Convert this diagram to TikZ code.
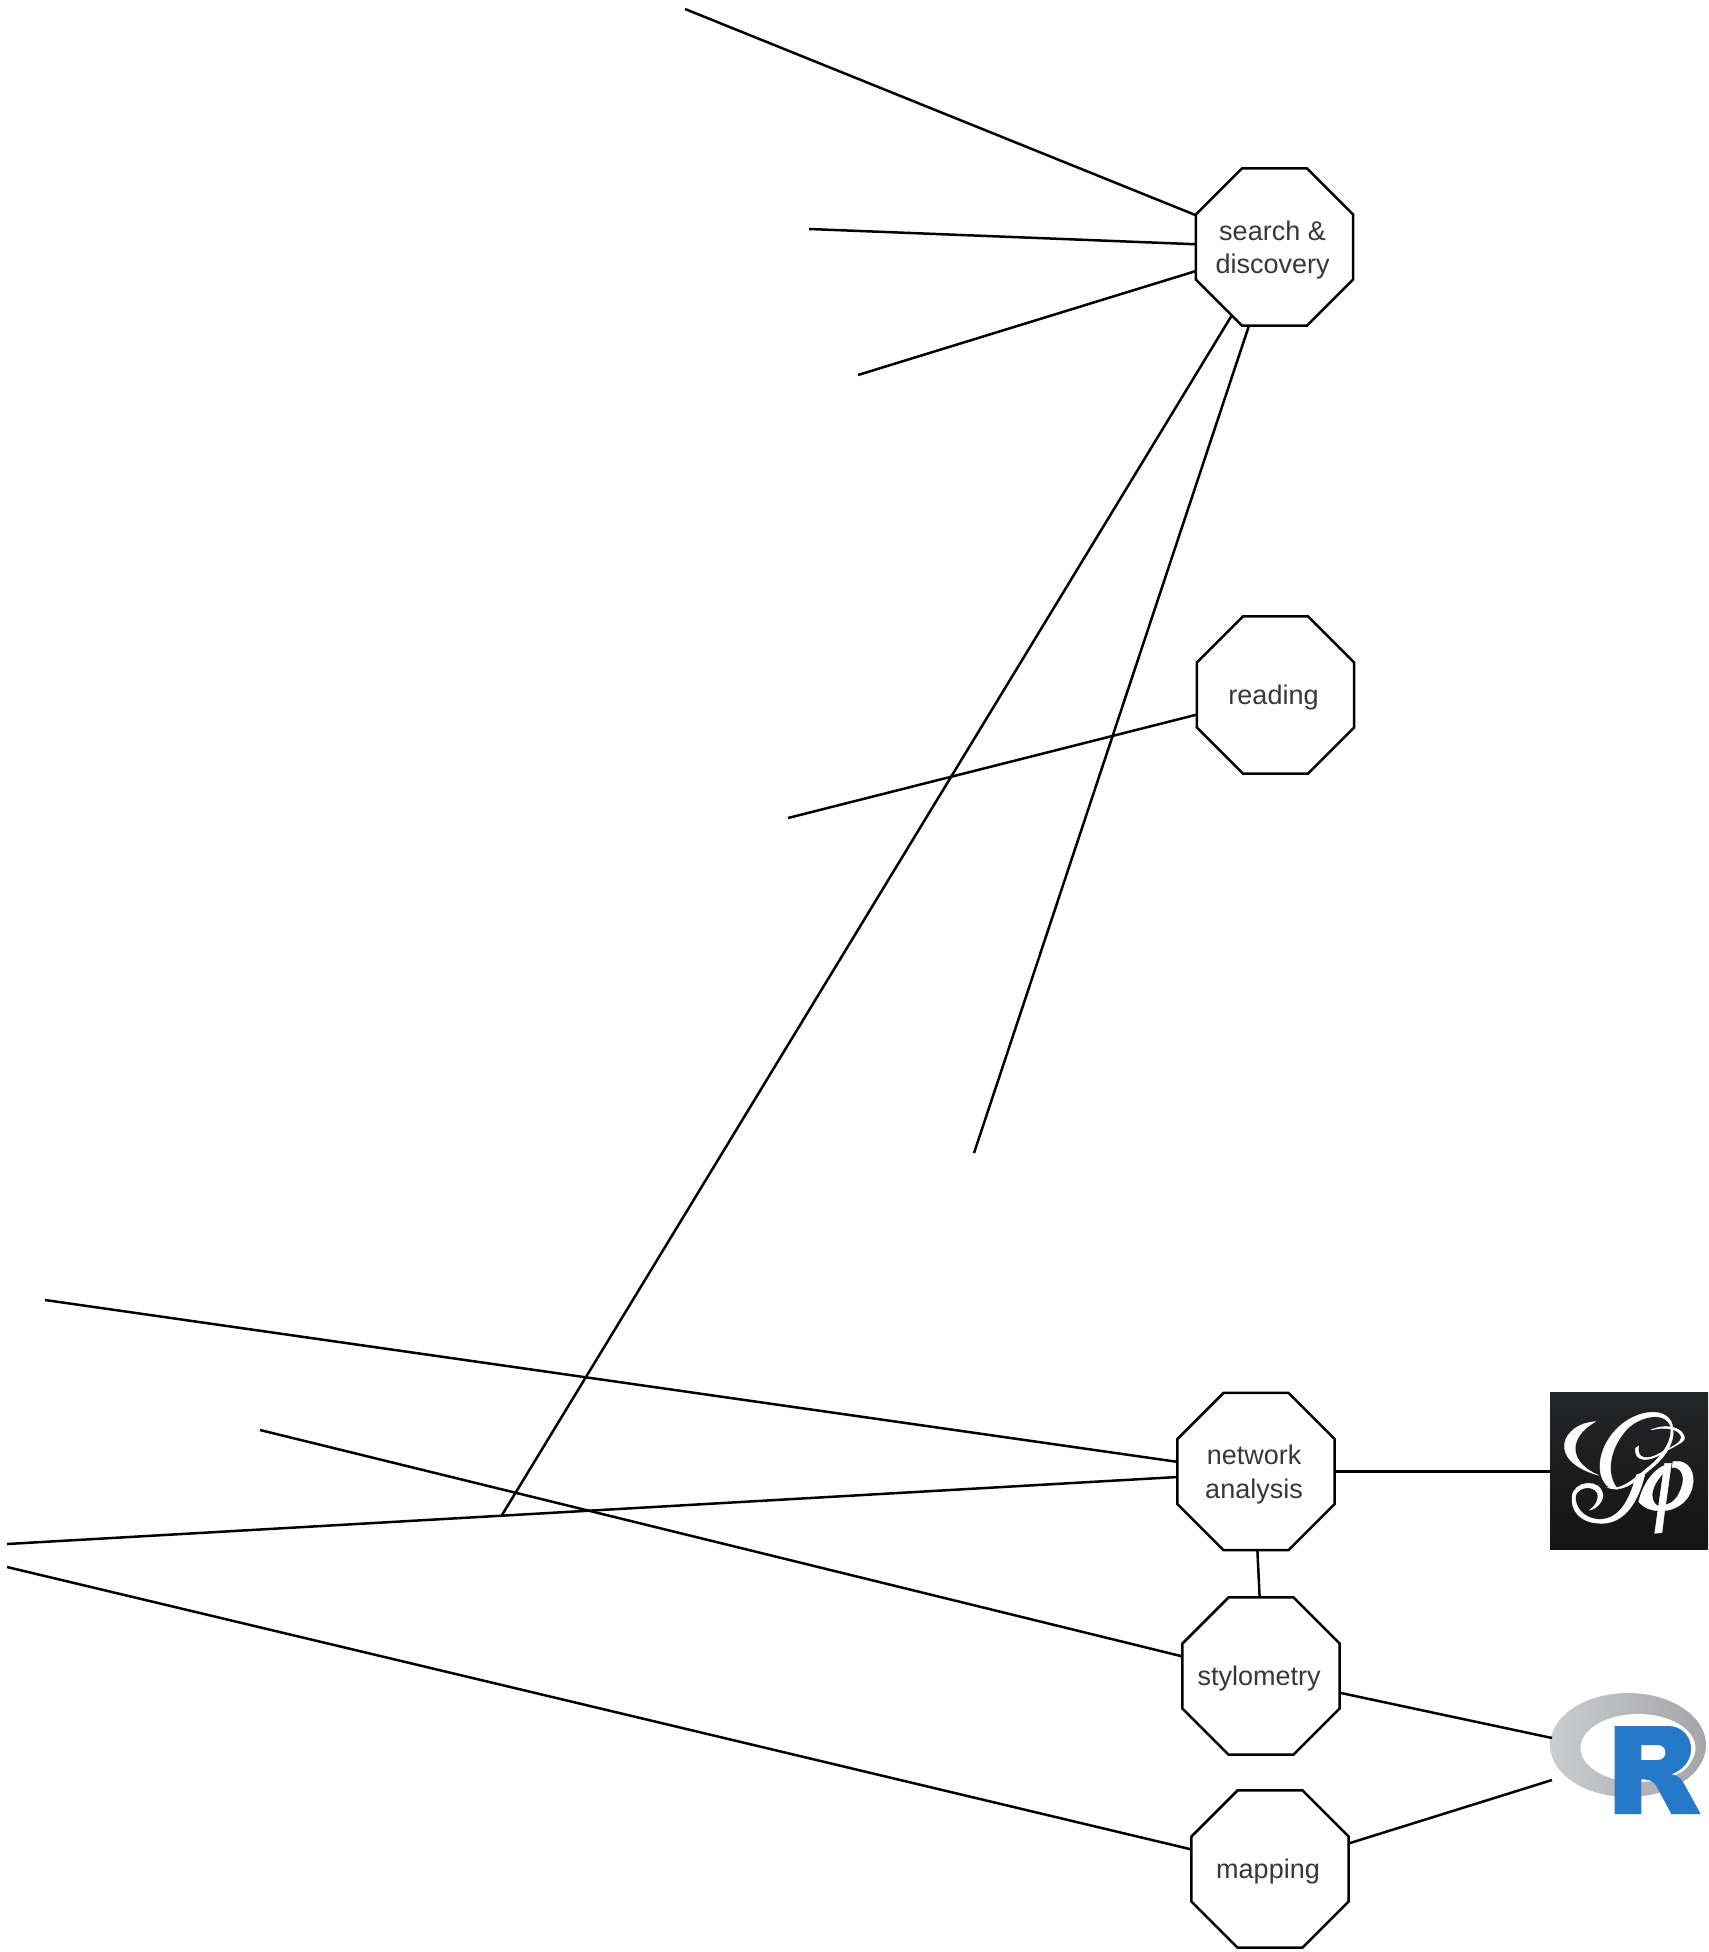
\documentclass[tikz,border=0pt]{standalone}
\usepackage{fontspec}
\setmainfont{Liberation Sans}
\usepackage{xcolor}
\usetikzlibrary{positioning, shapes.geometric}
\definecolor{mytext}{RGB}{55,55,55}
\definecolor{rblue}{RGB}{38,120,200}
\definecolor{ringl}{RGB}{203,204,207}
\definecolor{ringd}{RGB}{165,165,169}
\definecolor{gptop}{RGB}{36,37,39}
\definecolor{gpbot}{RGB}{20,20,20}
\newcommand{\tasktext}[1]{\makebox[0pt]{\hspace*{-2pt}\raisebox{-5.2pt}[0pt][0pt]{\begin{tabular}{@{}c@{}}#1\end{tabular}}}}

\begin{document}
\begin{tikzpicture}[
      x=0.5pt, y=-0.5pt,
      task/.style={draw, regular polygon, regular polygon sides=8, minimum size=85pt,
                  inner sep=0pt, outer sep=0pt, line width=1.25pt,
                  text=mytext, font=\fontsize{13.5}{16.8}\selectfont},
      link/.style={line width=1.25pt, color=black},
      glyph/.style={fill=white, draw=white, line width=0.2pt}
  ]
    \useasboundingbox (0,0) rectangle (1708,1952);

    \node[task] (search)  at (1274.5,247)  {\tasktext{search \&\\discovery}};
    \node[task] (reading) at (1275.5,695)  {\tasktext{reading}};
    \node[task] (network) at (1256,1471.5) {\tasktext{network\\analysis}};
    \node[task] (stylo)   at (1261,1676)   {\tasktext{stylometry}};
    \node[task] (mapping) at (1270,1869)   {\tasktext{mapping}};

    % Logos
    \node[minimum width=79pt, minimum height=78.5pt, inner sep=0pt, outer sep=0pt,
          top color=gptop, bottom color=gpbot] (gephi) at (1629,1470.5) {};
    \begin{scope}[shift={(1508,1360)}, x=0.5pt/3, y=-0.5pt/3]
      \path[glyph] (262,185) .. controls (165,190) and (110,300) .. (272,346)
            .. controls (185,310) and (175,235) .. (262,185) -- cycle;
      \path[glyph] (412,335) .. controls (395,420) and (350,492) .. (280,490)
            .. controls (215,490) and (188,450) .. (192,410)
            .. controls (195,365) and (275,350) .. (285,405)
            .. controls (285,425) and (265,447) .. (245,450)
            .. controls (262,438) and (274,420) .. (268,398)
            .. controls (250,370) and (200,385) .. (202,415)
            .. controls (205,455) and (240,480) .. (280,478)
            .. controls (335,475) and (365,420) .. (385,345) -- cycle;
      \path[glyph] (300,383) .. controls (345,400) and (390,360) .. (430,325)
            .. controls (475,290) and (505,240) .. (493,195)
            .. controls (480,145) and (405,145) .. (345,190)
            .. controls (280,240) and (255,330) .. (295,375)
            .. controls (303,383) and (315,388) .. (330,388)
            .. controls (295,350) and (300,275) .. (350,215)
            .. controls (385,170) and (470,150) .. (487,197)
            .. controls (497,235) and (465,285) .. (425,318)
            .. controls (385,350) and (345,392) .. (300,383) -- cycle;
      \path[glyph] (382,265) .. controls (378,305) and (420,310) .. (472,275)
            .. controls (512,250) and (538,245) .. (527,225)
            .. controls (515,198) and (465,192) .. (428,210)
            .. controls (470,200) and (510,205) .. (519,228)
            .. controls (525,250) and (480,265) .. (455,280)
            .. controls (420,300) and (385,300) .. (392,258) -- cycle;
      \path[glyph] (470,310) -- (440,520) -- (462,518) -- (470,452)
            .. controls (530,445) and (560,395) .. (555,350)
            .. controls (550,315) and (525,300) .. (495,305) -- (492,322)
            .. controls (518,320) and (532,345) .. (522,378)
            .. controls (512,412) and (495,430) .. (473,435) -- (490,310) -- cycle;
      \path[glyph] (470,316) .. controls (425,335) and (400,390) .. (392,425)
            .. controls (410,445) and (430,452) .. (452,452) -- (454,440)
            .. controls (425,430) and (420,385) .. (470,335) -- cycle;
    \end{scope}

    \shade[left color=ringl, right color=ringd] (1628,1745) ellipse [x radius=78, y radius=52];
    \fill[white] (1638,1748) ellipse [x radius=57.5, y radius=34];
    \coordinate (rtop) at (1552,1738);
    \coordinate (rbot) at (1552,1780);
    \begin{scope}[shift={(1508,1660)}, x=0.5pt/3, y=-0.5pt/3]
      \fill[white] (320,198) -- (480,198) .. controls (570,198) and (585,320) .. (500,345)
            -- (400,345) -- cycle;
      \path[even odd rule, fill=rblue] (320,198) -- (480,198)
            .. controls (560,198) and (580,310) .. (490,343)
            .. controls (515,348) and (522,360) .. (530,375)
            -- (578,462) -- (490,462) -- (445,378)
            .. controls (435,360) and (420,358) .. (400,358)
            -- (400,462) -- (320,462) -- cycle
            (400,255) -- (400,300) -- (450,300)
            .. controls (480,300) and (480,255) .. (450,255) -- cycle;
    \end{scope}

    % Free ends
    \coordinate (sa) at (685,9);
    \coordinate (sb) at (809,229);
    \coordinate (sc) at (858,375);
    \coordinate (sd) at (502,1515);
    \coordinate (se) at (974,1153);
    \coordinate (ra) at (788,818);
    \coordinate (na) at (45,1300);
    \coordinate (nb) at (7,1544);
    \coordinate (ya) at (260,1430);
    \coordinate (ma) at (7,1567);

    \draw[link] (search.158.1) -- (sa);
    \draw[link] (search.178.9) -- (sb);
    \draw[link] (search.197.8) -- (sc);
    \draw[link] (search.238.1) -- (sd);
    \draw[link] (search.252.3) -- (se);
    \draw[link] (reading.194.8) -- (ra);
    \draw[link] (network.173.2) -- (na);
    \draw[link] (network.184.6) -- (nb);
    \draw[link] (stylo.166.6) -- (ya);
    \draw[link] (mapping.166) -- (ma);
    \draw[link] (network.0) -- (gephi.west |- network.0);
    \draw[link] (network.271) -- (stylo.91.4);
    \draw[link] (stylo.-12) -- (rtop);
    \draw[link] (mapping.18.1) -- (rbot);
  \end{tikzpicture}
\end{document}
